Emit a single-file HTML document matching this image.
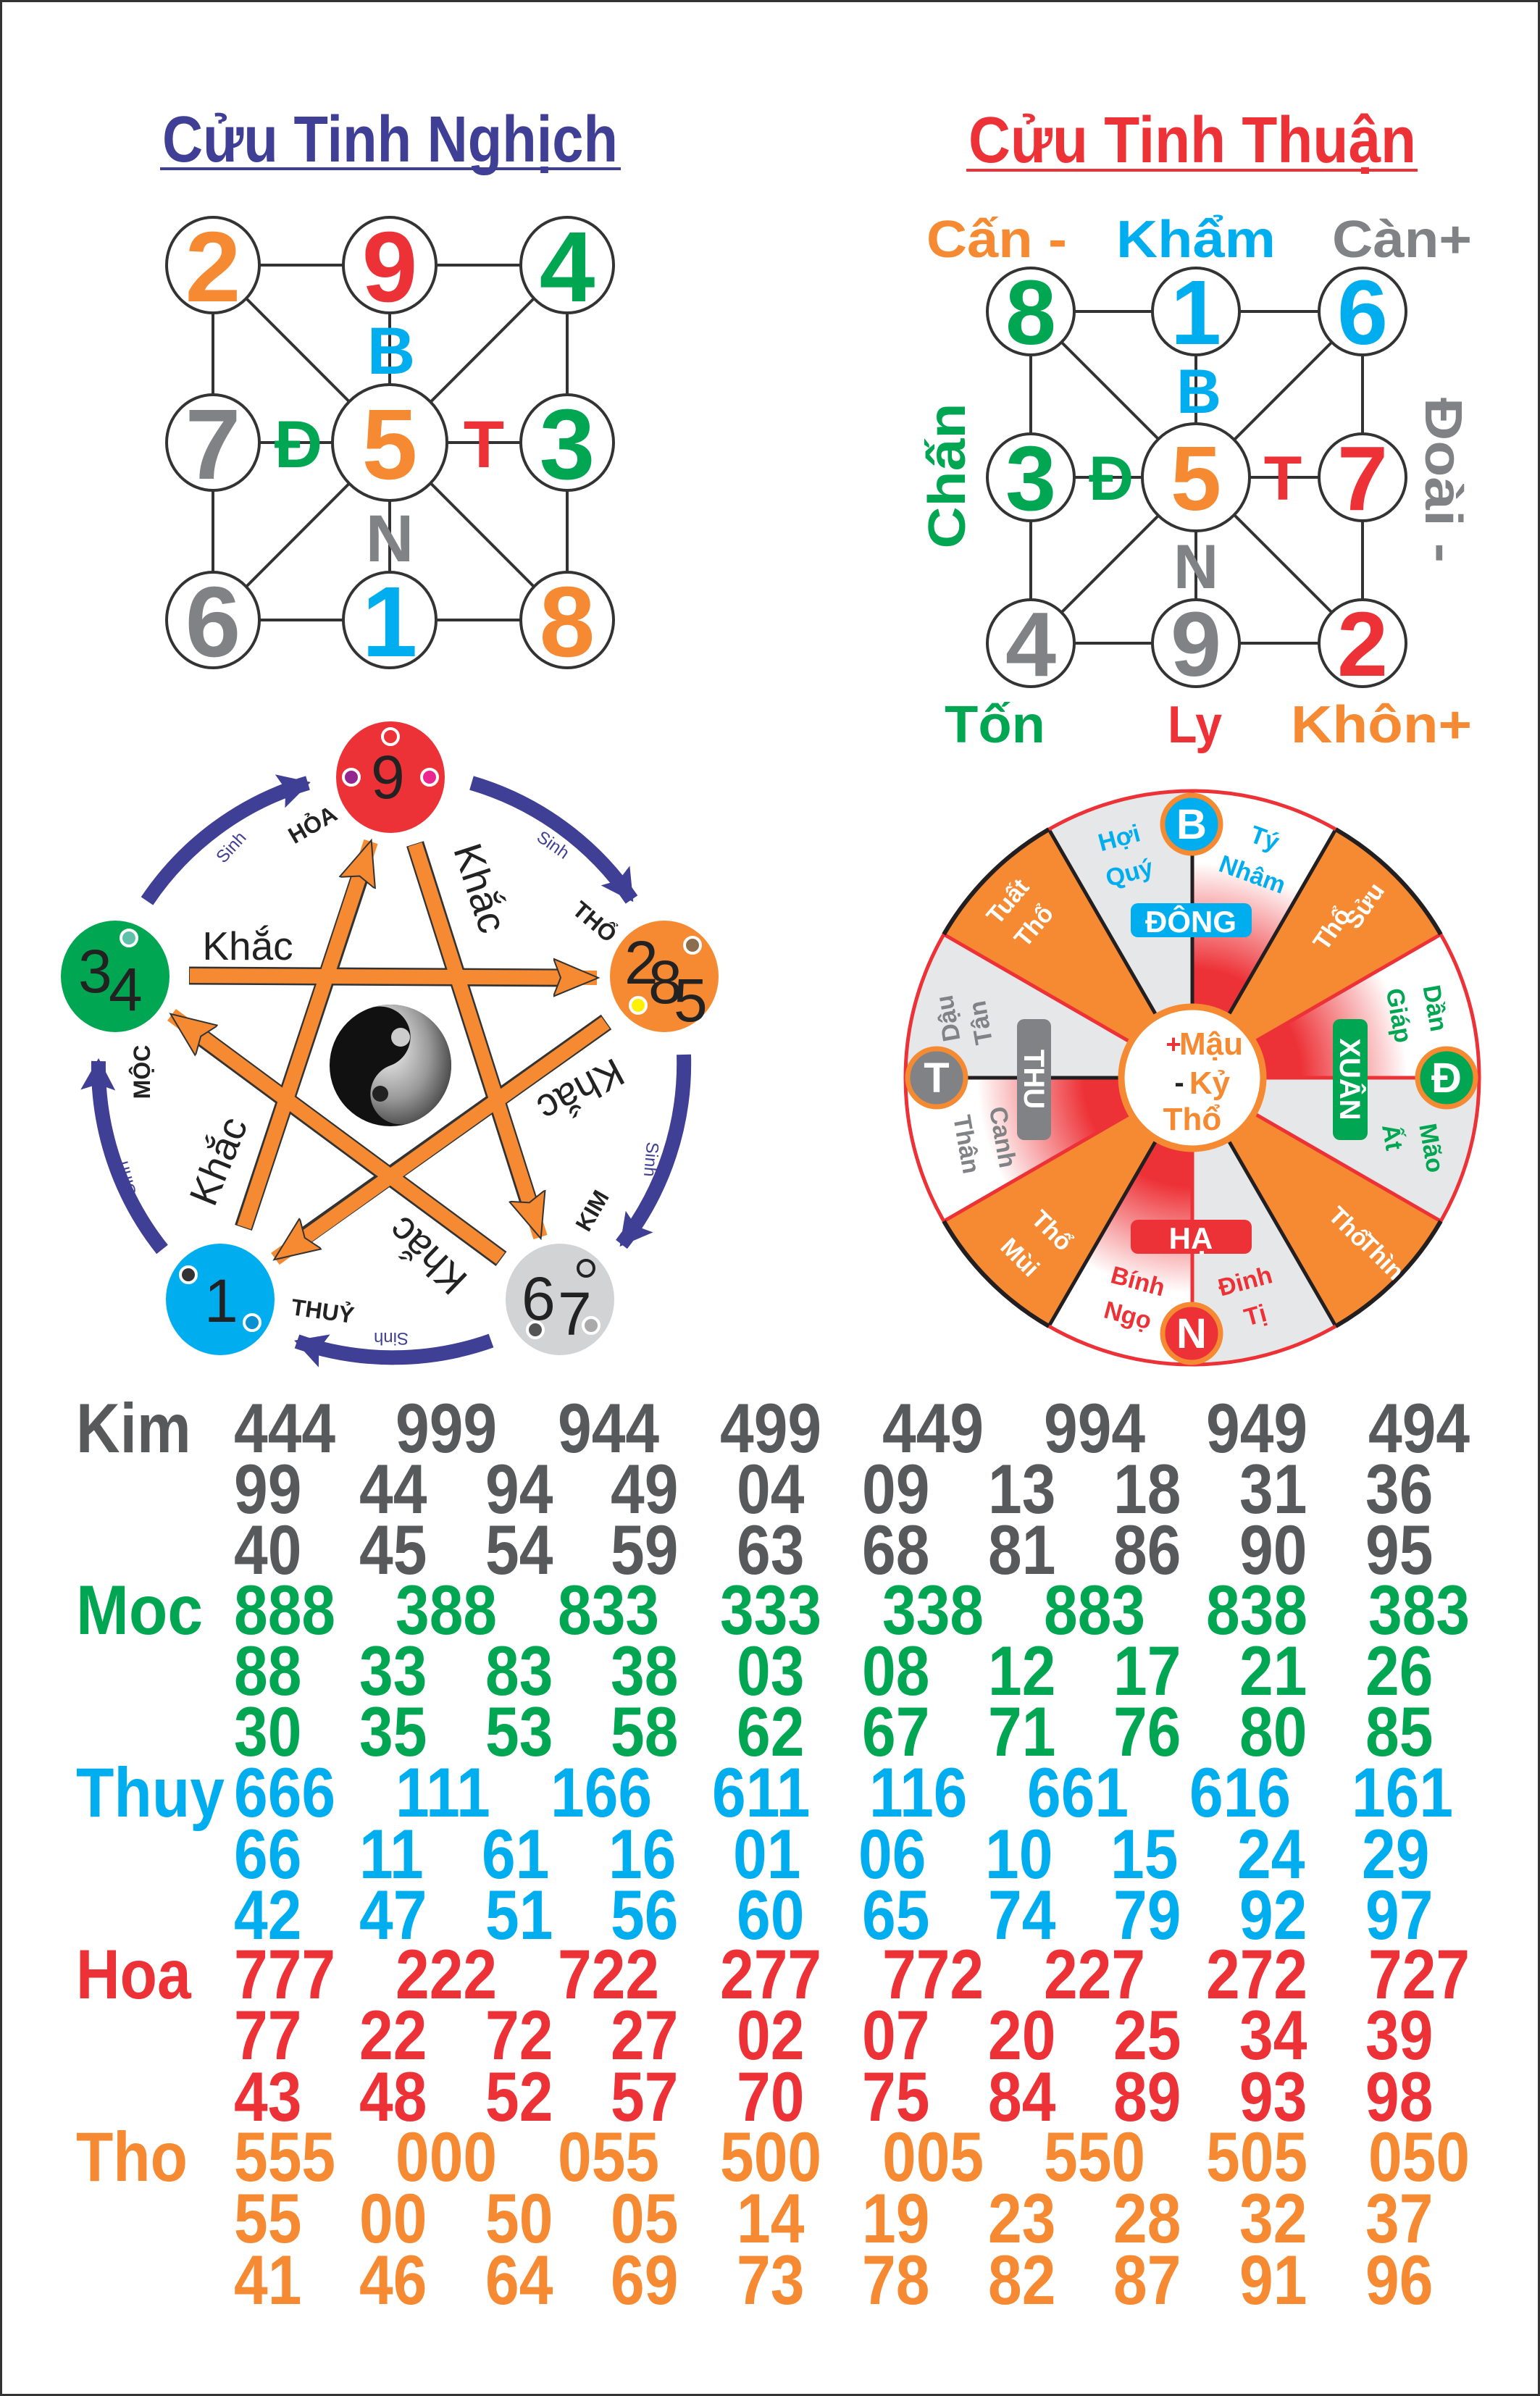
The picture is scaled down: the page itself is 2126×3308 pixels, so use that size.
<!DOCTYPE html>
<html><head><meta charset="utf-8"><style>
html,body{margin:0;padding:0;background:#fff}
svg{display:block}
text{font-family:"Liberation Sans","DejaVu Sans",sans-serif}
</style></head><body>
<svg width="2126" height="3308" viewBox="0 0 2126 3308" xmlns="http://www.w3.org/2000/svg">
<defs>
<marker id="oa" markerUnits="userSpaceOnUse" markerWidth="70" markerHeight="70" viewBox="0 -35 70 70" refX="60" refY="0" orient="auto"><path d="M0,-26 L62,0 L0,26 L10,0 Z" fill="#f58a32" stroke="#333" stroke-width="2"/></marker>
<marker id="ba" markerUnits="userSpaceOnUse" markerWidth="60" markerHeight="60" viewBox="0 -30 60 60" refX="40" refY="0" orient="auto"><path d="M0,-24 L44,0 L0,24 L8,0 Z" fill="#3f3f96"/></marker>
<radialGradient id="rg" gradientUnits="userSpaceOnUse" cx="1646" cy="1488" r="396"><stop offset="0.25" stop-color="#ed3237"/><stop offset="0.38" stop-color="#ed3237"/><stop offset="0.75" stop-color="#fff"/></radialGradient>
<radialGradient id="yy" cx="0.35" cy="0.3" r="0.8"><stop offset="0" stop-color="#fff"/><stop offset="0.6" stop-color="#999"/><stop offset="1" stop-color="#333"/></radialGradient>
</defs>
<rect x="1.5" y="1.5" width="2123" height="3305" fill="#fff" stroke="#333" stroke-width="3"/>

<!-- Top-left: Cuu Tinh Nghich -->
<text x="224" y="223" font-size="90" font-weight="bold" fill="#3f3f96" textLength="629" lengthAdjust="spacingAndGlyphs">Cửu Tinh Nghịch</text>
<rect x="221" y="231" width="636" height="4" fill="#3f3f96"/>
<g stroke="#333" stroke-width="4" fill="none">
<line x1="294" y1="366" x2="783" y2="366"/><line x1="294" y1="856" x2="783" y2="856"/>
<line x1="294" y1="366" x2="294" y2="856"/><line x1="783" y1="366" x2="783" y2="856"/>
<line x1="538" y1="366" x2="538" y2="856"/><line x1="294" y1="611" x2="783" y2="611"/>
<line x1="294" y1="366" x2="783" y2="856"/><line x1="783" y1="366" x2="294" y2="856"/>
</g>
<g stroke="#333" stroke-width="4" fill="#fff">
<ellipse cx="294" cy="366" rx="64" ry="66"/><ellipse cx="538" cy="366" rx="64" ry="66"/><ellipse cx="783" cy="366" rx="64" ry="66"/>
<ellipse cx="294" cy="611" rx="64" ry="66"/><ellipse cx="538" cy="611" rx="79" ry="80"/><ellipse cx="783" cy="611" rx="64" ry="66"/>
<ellipse cx="294" cy="856" rx="64" ry="66"/><ellipse cx="538" cy="856" rx="64" ry="66"/><ellipse cx="783" cy="856" rx="64" ry="66"/>
</g>
<g font-size="138" font-weight="bold" text-anchor="middle">
<text x="294" y="416" fill="#f58a32">2</text><text x="538" y="416" fill="#ed3237">9</text><text x="783" y="416" fill="#00a651">4</text>
<text x="294" y="661" fill="#808285">7</text><text x="538" y="661" fill="#f58a32">5</text><text x="783" y="661" fill="#00a651">3</text>
<text x="294" y="906" fill="#808285">6</text><text x="538" y="906" fill="#00aeef">1</text><text x="783" y="906" fill="#f58a32">8</text>
</g>
<g font-size="92" font-weight="bold" text-anchor="middle">
<text x="540" y="516" fill="#00aeef">B</text>
<text x="412" y="645" fill="#00a651">Đ</text>
<text x="668" y="645" fill="#ed3237">T</text>
<text x="538" y="775" fill="#808285">N</text>
</g>

<!-- Top-right: Cuu Tinh Thuan -->
<text x="1337" y="224" font-size="90" font-weight="bold" fill="#ed3237" textLength="618" lengthAdjust="spacingAndGlyphs">Cửu Tinh Thuận</text>
<rect x="1334" y="233" width="623" height="4" fill="#ed3237"/>
<g font-size="72" font-weight="bold">
<text x="1279" y="355" fill="#f58a32" textLength="194" lengthAdjust="spacingAndGlyphs">Cấn -</text>
<text x="1541" y="355" fill="#00aeef" textLength="220" lengthAdjust="spacingAndGlyphs">Khẩm</text>
<text x="1839" y="355" fill="#808285" textLength="193" lengthAdjust="spacingAndGlyphs">Càn+</text>
<text x="1304" y="1025" fill="#00a651" textLength="139" lengthAdjust="spacingAndGlyphs">Tốn</text>
<text x="1612" y="1025" fill="#ed3237" textLength="75" lengthAdjust="spacingAndGlyphs">Ly</text>
<text x="1782" y="1025" fill="#f58a32" textLength="250" lengthAdjust="spacingAndGlyphs">Khôn+</text>
<text transform="translate(1332,657) rotate(-90)" text-anchor="middle" fill="#00a651" textLength="201" lengthAdjust="spacingAndGlyphs">Chấn</text>
<text transform="translate(1968,663) rotate(90)" text-anchor="middle" fill="#808285" textLength="228" lengthAdjust="spacingAndGlyphs">Đoài -</text>
</g>
<g stroke="#333" stroke-width="4" fill="none">
<line x1="1423" y1="430" x2="1881" y2="430"/><line x1="1423" y1="888" x2="1881" y2="888"/>
<line x1="1423" y1="430" x2="1423" y2="888"/><line x1="1881" y1="430" x2="1881" y2="888"/>
<line x1="1651" y1="430" x2="1651" y2="888"/><line x1="1423" y1="659" x2="1881" y2="659"/>
<line x1="1423" y1="430" x2="1881" y2="888"/><line x1="1881" y1="430" x2="1423" y2="888"/>
</g>
<g stroke="#333" stroke-width="4" fill="#fff">
<circle cx="1423" cy="430" r="60"/><circle cx="1651" cy="430" r="60"/><circle cx="1881" cy="430" r="60"/>
<circle cx="1423" cy="659" r="60"/><circle cx="1651" cy="659" r="74"/><circle cx="1881" cy="659" r="60"/>
<circle cx="1423" cy="888" r="60"/><circle cx="1651" cy="888" r="60"/><circle cx="1881" cy="888" r="60"/>
</g>
<g font-size="126" font-weight="bold" text-anchor="middle">
<text x="1423" y="475" fill="#00a651">8</text><text x="1651" y="475" fill="#00aeef">1</text><text x="1881" y="475" fill="#00aeef">6</text>
<text x="1423" y="704" fill="#00a651">3</text><text x="1651" y="704" fill="#f58a32">5</text><text x="1881" y="704" fill="#ed3237">7</text>
<text x="1423" y="933" fill="#808285">4</text><text x="1651" y="933" fill="#808285">9</text><text x="1881" y="933" fill="#ed3237">2</text>
</g>
<g font-size="86" font-weight="bold" text-anchor="middle">
<text x="1655" y="570" fill="#00aeef">B</text>
<text x="1534" y="690" fill="#00a651">Đ</text>
<text x="1771" y="690" fill="#ed3237">T</text>
<text x="1651" y="812" fill="#808285">N</text>
</g>

<!-- Five elements -->
<g fill="none" stroke="#3f3f96" stroke-width="20" marker-end="url(#ba)">
<path d="M203,1244 A405,405 0 0 1 425,1081"/>
<path d="M651,1081 A405,405 0 0 1 872,1242"/>
<path d="M944,1456 A405,405 0 0 1 858,1718"/>
<path d="M678,1851 A405,405 0 0 1 410,1852"/>
<path d="M224,1725 A405,405 0 0 1 136,1465"/>
</g>
<g font-size="24" fill="#3f3f96" text-anchor="middle">
<text transform="translate(325,1175) rotate(-48)">Sinh</text>
<text transform="translate(759,1173) rotate(35)">Sinh</text>
<text transform="translate(891,1600) rotate(95)">Sinh</text>
<text transform="translate(540,1840) rotate(180)">Sinh</text>
<text transform="translate(182,1625) rotate(-105)">Sinh</text>
</g>
<g stroke="#333" stroke-width="25" fill="none" stroke-linecap="butt">
<line x1="261" y1="1347" x2="790" y2="1350"/>
<line x1="573" y1="1165" x2="735" y2="1675"/>
<line x1="837" y1="1411" x2="405" y2="1718"/>
<line x1="692" y1="1738" x2="262" y2="1420"/>
<line x1="336" y1="1695" x2="502" y2="1195"/>
</g>
<g stroke="#f58a32" stroke-width="20" fill="none" marker-end="url(#oa)">
<line x1="262" y1="1347" x2="824" y2="1350"/>
<line x1="573" y1="1166" x2="746" y2="1708"/>
<line x1="836" y1="1412" x2="380" y2="1738"/>
<line x1="691" y1="1737" x2="237" y2="1401"/>
<line x1="337" y1="1694" x2="512" y2="1162"/>
</g>
<g font-size="55" fill="#222" text-anchor="middle">
<text x="342" y="1325">Khắc</text>
<text transform="translate(645,1232) rotate(72)">Khắc</text>
<text transform="translate(793,1489) rotate(152)">Khắc</text>
<text transform="translate(603,1720) rotate(224)">Khắc</text>
<text transform="translate(319,1610) rotate(-68)">Khắc</text>
</g>
<g font-size="32" font-weight="bold" fill="#222" text-anchor="middle">
<text transform="translate(437,1148) rotate(-30)">HỎA</text>
<text transform="translate(814,1281) rotate(40)">THỔ</text>
<text transform="translate(827,1677) rotate(-60)">KIM</text>
<text transform="translate(444,1821) rotate(8)">THUỶ</text>
<text transform="translate(207,1480) rotate(-90)">MỘC</text>
</g>
<ellipse cx="539" cy="1073" rx="75" ry="77" fill="#ed3237"/>
<ellipse cx="917" cy="1348" rx="75" ry="77" fill="#f58a32"/>
<ellipse cx="159" cy="1348" rx="75" ry="77" fill="#00a651"/>
<ellipse cx="304" cy="1794" rx="75" ry="77" fill="#00aeef"/>
<ellipse cx="773" cy="1794" rx="75" ry="77" fill="#d1d3d4"/>
<g stroke="#fff" stroke-width="4">
<circle cx="539" cy="1017" r="11" fill="#ed3237"/><circle cx="485" cy="1073" r="11" fill="#92278f"/><circle cx="593" cy="1073" r="11" fill="#ec268f"/>
<circle cx="956" cy="1305" r="11" fill="#8b6d4f"/><circle cx="881" cy="1388" r="11" fill="#fff200"/>
<circle cx="178" cy="1295" r="11" fill="#5fc1a8"/>
<circle cx="260" cy="1760" r="11" fill="#333"/><circle cx="348" cy="1826" r="11" fill="#0a8fd0"/>
<circle cx="809" cy="1751" r="11" fill="#d1d3d4" stroke="#222"/><circle cx="739" cy="1836" r="11" fill="#555"/><circle cx="816" cy="1830" r="11" fill="#aaa"/>
</g>
<g font-size="84" fill="#222" font-family="Liberation Serif, serif">
<text x="512" y="1102">9</text>
<text x="108" y="1370">3</text><text x="150" y="1395">4</text>
<text x="862" y="1358">2</text><text x="895" y="1385">8</text><text x="930" y="1410">5</text>
<text x="282" y="1825">1</text>
<text x="720" y="1822">6</text><text x="770" y="1843">7</text>
</g>
<circle cx="539" cy="1471" r="84" fill="#111"/>
<path d="M539,1387 A84,84 0 0 1 539,1555 A42,42 0 0 1 539,1471 A42,42 0 0 0 539,1387 Z" fill="url(#yy)" transform="rotate(-20 539 1471)"/>
<circle cx="553" cy="1432" r="13" fill="#ccc"/>
<circle cx="525" cy="1510" r="11" fill="#222"/>

<!-- Wheel -->
<g stroke="none">
<path d="M1646,1488 L1303,1290 A396,396 0 0 1 1448,1145 Z" fill="#f58a32"/>
<path d="M1646,1488 L1448,1145 A396,396 0 0 1 1646,1092 Z" fill="#e6e7e8"/>
<path d="M1646,1488 L1646,1092 A396,396 0 0 1 1844,1145 Z" fill="url(#rg)"/>
<path d="M1646,1488 L1844,1145 A396,396 0 0 1 1989,1290 Z" fill="#f58a32"/>
<path d="M1646,1488 L1989,1290 A396,396 0 0 1 2042,1488 Z" fill="url(#rg)"/>
<path d="M1646,1488 L2042,1488 A396,396 0 0 1 1989,1686 Z" fill="#e6e7e8"/>
<path d="M1646,1488 L1989,1686 A396,396 0 0 1 1844,1831 Z" fill="#f58a32"/>
<path d="M1646,1488 L1844,1831 A396,396 0 0 1 1646,1884 Z" fill="#e6e7e8"/>
<path d="M1646,1488 L1646,1884 A396,396 0 0 1 1448,1831 Z" fill="url(#rg)"/>
<path d="M1646,1488 L1448,1831 A396,396 0 0 1 1303,1686 Z" fill="#f58a32"/>
<path d="M1646,1488 L1303,1686 A396,396 0 0 1 1250,1488 Z" fill="url(#rg)"/>
<path d="M1646,1488 L1250,1488 A396,396 0 0 1 1303,1290 Z" fill="#e6e7e8"/>
</g>
<g stroke-width="5">
<line x1="1646" y1="1488" x2="1448" y2="1145" stroke="#231f20"/>
<line x1="1646" y1="1488" x2="1844" y2="1145" stroke="#231f20"/>
<line x1="1646" y1="1488" x2="1844" y2="1831" stroke="#231f20"/>
<line x1="1646" y1="1488" x2="1448" y2="1831" stroke="#231f20"/>
<line x1="1646" y1="1488" x2="1646" y2="1092" stroke="#231f20"/>
<line x1="1646" y1="1488" x2="1250" y2="1488" stroke="#231f20"/>
<line x1="1646" y1="1488" x2="1303" y2="1290" stroke="#ed3237"/>
<line x1="1646" y1="1488" x2="1989" y2="1290" stroke="#ed3237"/>
<line x1="1646" y1="1488" x2="1989" y2="1686" stroke="#ed3237"/>
<line x1="1646" y1="1488" x2="1303" y2="1686" stroke="#ed3237"/>
<line x1="1646" y1="1488" x2="2042" y2="1488" stroke="#ed3237"/>
<line x1="1646" y1="1488" x2="1646" y2="1884" stroke="#ed3237"/>
</g>
<circle cx="1646" cy="1488" r="396" fill="none" stroke="#ed3237" stroke-width="5"/>
<path d="M1448,1145 A396,396 0 0 0 1303,1290" fill="none" stroke="#231f20" stroke-width="6"/>
<path d="M1844,1145 A396,396 0 0 1 1989,1290" fill="none" stroke="#231f20" stroke-width="6"/>
<path d="M1989,1686 A396,396 0 0 1 1844,1831" fill="none" stroke="#231f20" stroke-width="6"/>
<path d="M1448,1831 A396,396 0 0 1 1303,1686" fill="none" stroke="#231f20" stroke-width="6"/>
<circle cx="1646" cy="1488" r="98" fill="#fff" stroke="#f58a32" stroke-width="9"/>
<g font-weight="bold" text-anchor="middle">
<text x="1620" y="1454" font-size="36" fill="#ed3237">+</text>
<text x="1672" y="1456" font-size="44" fill="#f58a32">Mậu</text>
<text x="1628" y="1508" font-size="40" fill="#222">-</text>
<text x="1670" y="1510" font-size="44" fill="#f58a32">Kỷ</text>
<text x="1646" y="1560" font-size="44" fill="#f58a32">Thổ</text>
</g>
<rect x="1561" y="1247" width="167" height="47" rx="10" fill="#00aeef"/>
<text x="1644" y="1287" font-size="42" font-weight="bold" fill="#fff" text-anchor="middle">ĐÔNG</text>
<rect x="1561" y="1684" width="167" height="47" rx="10" fill="#ed3237"/>
<text x="1644" y="1724" font-size="42" font-weight="bold" fill="#fff" text-anchor="middle">HẠ</text>
<rect x="1840" y="1407" width="48" height="167" rx="10" fill="#00a651"/>
<text transform="translate(1850,1490) rotate(90)" font-size="40" font-weight="bold" fill="#fff" text-anchor="middle">XUÂN</text>
<rect x="1404" y="1407" width="47" height="167" rx="10" fill="#808285"/>
<text transform="translate(1414,1490) rotate(90)" font-size="40" font-weight="bold" fill="#fff" text-anchor="middle">THU</text>
<g font-size="34" font-weight="bold" text-anchor="middle">
<text transform="translate(1548,1168) rotate(-15)" fill="#00aeef">Hợi</text>
<text transform="translate(1562,1216) rotate(-15)" fill="#00aeef">Quý</text>
<text transform="translate(1742,1168) rotate(20)" fill="#00aeef">Tý</text>
<text transform="translate(1725,1218) rotate(20)" fill="#00aeef">Nhâm</text>
<text transform="translate(1400,1252) rotate(-50)" fill="#fff">Tuất</text>
<text transform="translate(1436,1286) rotate(-50)" fill="#fff">Thổ</text>
<text transform="translate(1893,1257) rotate(-55)" fill="#fff">Sửu</text>
<text transform="translate(1848,1289) rotate(-55)" fill="#fff">Thổ</text>
<text transform="translate(1970,1394) rotate(80)" fill="#00a651">Dần</text>
<text transform="translate(1920,1404) rotate(80)" fill="#00a651">Giáp</text>
<text transform="translate(1911,1572) rotate(80)" fill="#00a651">Ất</text>
<text transform="translate(1965,1587) rotate(80)" fill="#00a651">Mão</text>
<text transform="translate(1320,1404) rotate(-100)" fill="#808285">Dậu</text>
<text transform="translate(1365,1410) rotate(-100)" fill="#808285">Tân</text>
<text transform="translate(1373,1572) rotate(80)" fill="#808285">Canh</text>
<text transform="translate(1323,1582) rotate(80)" fill="#808285">Thân</text>
<text transform="translate(1444,1707) rotate(45)" fill="#fff">Thổ</text>
<text transform="translate(1400,1744) rotate(45)" fill="#fff">Mùi</text>
<text transform="translate(1854,1702) rotate(45)" fill="#fff">Thổ</text>
<text transform="translate(1899,1744) rotate(45)" fill="#fff">Thìn</text>
<text transform="translate(1568,1780) rotate(15)" fill="#ed3237">Bính</text>
<text transform="translate(1554,1827) rotate(15)" fill="#ed3237">Ngọ</text>
<text transform="translate(1722,1780) rotate(-15)" fill="#ed3237">Đinh</text>
<text transform="translate(1736,1827) rotate(-15)" fill="#ed3237">Tị</text>
</g>
<g stroke="#f58a32" stroke-width="7">
<circle cx="1645" cy="1138" r="40" fill="#00aeef"/>
<circle cx="1997" cy="1488" r="40" fill="#00a651"/>
<circle cx="1645" cy="1841" r="40" fill="#ed3237"/>
<circle cx="1293" cy="1488" r="40" fill="#808285"/>
</g>
<g font-family="Liberation Serif, serif" font-size="58" font-weight="bold" fill="#fff" text-anchor="middle">
<text x="1645" y="1158">B</text><text x="1997" y="1508">Đ</text><text x="1645" y="1861">N</text><text x="1293" y="1508">T</text>
</g>

<!-- Table (vertically stretched 1.15; y = baseline/1.15) -->
<g font-size="84" font-weight="bold" transform="scale(1,1.15)">
<g fill="#58595b">
<text x="105" y="1743.5">Kim</text>
<text y="1743.5"><tspan x="323">444</tspan><tspan x="546">999</tspan><tspan x="770">944</tspan><tspan x="994">499</tspan><tspan x="1218">449</tspan><tspan x="1441">994</tspan><tspan x="1665">949</tspan><tspan x="1889">494</tspan></text>
<text y="1816.5"><tspan x="323">99</tspan><tspan x="496">44</tspan><tspan x="670">94</tspan><tspan x="843">49</tspan><tspan x="1017">04</tspan><tspan x="1190">09</tspan><tspan x="1364">13</tspan><tspan x="1537">18</tspan><tspan x="1711">31</tspan><tspan x="1885">36</tspan></text>
<text y="1889.6"><tspan x="323">40</tspan><tspan x="496">45</tspan><tspan x="670">54</tspan><tspan x="843">59</tspan><tspan x="1017">63</tspan><tspan x="1190">68</tspan><tspan x="1364">81</tspan><tspan x="1537">86</tspan><tspan x="1711">90</tspan><tspan x="1885">95</tspan></text>
</g>
<g fill="#00a651">
<text x="105" y="1961.7" textLength="175" lengthAdjust="spacingAndGlyphs">Moc</text>
<text y="1961.7"><tspan x="323">888</tspan><tspan x="546">388</tspan><tspan x="770">833</tspan><tspan x="994">333</tspan><tspan x="1218">338</tspan><tspan x="1441">883</tspan><tspan x="1665">838</tspan><tspan x="1889">383</tspan></text>
<text y="2034.8"><tspan x="323">88</tspan><tspan x="496">33</tspan><tspan x="670">83</tspan><tspan x="843">38</tspan><tspan x="1017">03</tspan><tspan x="1190">08</tspan><tspan x="1364">12</tspan><tspan x="1537">17</tspan><tspan x="1711">21</tspan><tspan x="1885">26</tspan></text>
<text y="2107.8"><tspan x="323">30</tspan><tspan x="496">35</tspan><tspan x="670">53</tspan><tspan x="843">58</tspan><tspan x="1017">62</tspan><tspan x="1190">67</tspan><tspan x="1364">71</tspan><tspan x="1537">76</tspan><tspan x="1711">80</tspan><tspan x="1885">85</tspan></text>
</g>
<g fill="#00aeef">
<text x="105" y="2180.9" textLength="205" lengthAdjust="spacingAndGlyphs">Thuy</text>
<text y="2180.9"><tspan x="323">666</tspan><tspan x="546">111</tspan><tspan x="760">166</tspan><tspan x="983">611</tspan><tspan x="1200">116</tspan><tspan x="1418">661</tspan><tspan x="1642">616</tspan><tspan x="1866">161</tspan></text>
<text y="2254.8"><tspan x="323">66</tspan><tspan x="496">11</tspan><tspan x="665">61</tspan><tspan x="840">16</tspan><tspan x="1012">01</tspan><tspan x="1185">06</tspan><tspan x="1360">10</tspan><tspan x="1533">15</tspan><tspan x="1708">24</tspan><tspan x="1880">29</tspan></text>
<text y="2327.8"><tspan x="323">42</tspan><tspan x="496">47</tspan><tspan x="670">51</tspan><tspan x="843">56</tspan><tspan x="1017">60</tspan><tspan x="1190">65</tspan><tspan x="1364">74</tspan><tspan x="1537">79</tspan><tspan x="1711">92</tspan><tspan x="1885">97</tspan></text>
</g>
<g fill="#ed3237">
<text x="105" y="2399.1">Hoa</text>
<text y="2399.1"><tspan x="323">777</tspan><tspan x="546">222</tspan><tspan x="770">722</tspan><tspan x="994">277</tspan><tspan x="1218">772</tspan><tspan x="1441">227</tspan><tspan x="1665">272</tspan><tspan x="1889">727</tspan></text>
<text y="2472.2"><tspan x="323">77</tspan><tspan x="496">22</tspan><tspan x="670">72</tspan><tspan x="843">27</tspan><tspan x="1017">02</tspan><tspan x="1190">07</tspan><tspan x="1364">20</tspan><tspan x="1537">25</tspan><tspan x="1711">34</tspan><tspan x="1885">39</tspan></text>
<text y="2546.1"><tspan x="323">43</tspan><tspan x="496">48</tspan><tspan x="670">52</tspan><tspan x="843">57</tspan><tspan x="1017">70</tspan><tspan x="1190">75</tspan><tspan x="1364">84</tspan><tspan x="1537">89</tspan><tspan x="1711">93</tspan><tspan x="1885">98</tspan></text>
</g>
<g fill="#f58a32">
<text x="105" y="2618.3">Tho</text>
<text y="2618.3"><tspan x="323">555</tspan><tspan x="546">000</tspan><tspan x="770">055</tspan><tspan x="994">500</tspan><tspan x="1218">005</tspan><tspan x="1441">550</tspan><tspan x="1665">505</tspan><tspan x="1889">050</tspan></text>
<text y="2692.2"><tspan x="323">55</tspan><tspan x="496">00</tspan><tspan x="670">50</tspan><tspan x="843">05</tspan><tspan x="1017">14</tspan><tspan x="1190">19</tspan><tspan x="1364">23</tspan><tspan x="1537">28</tspan><tspan x="1711">32</tspan><tspan x="1885">37</tspan></text>
<text y="2766.1"><tspan x="323">41</tspan><tspan x="496">46</tspan><tspan x="670">64</tspan><tspan x="843">69</tspan><tspan x="1017">73</tspan><tspan x="1190">78</tspan><tspan x="1364">82</tspan><tspan x="1537">87</tspan><tspan x="1711">91</tspan><tspan x="1885">96</tspan></text>
</g>
</g>
</svg>
</body></html>
